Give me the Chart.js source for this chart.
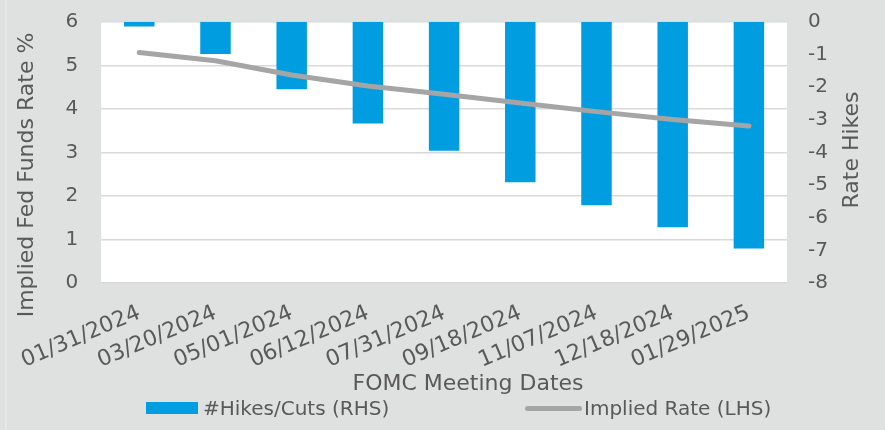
<!DOCTYPE html>
<html>
<head>
<meta charset="utf-8">
<script src="https://cdn.jsdelivr.net/npm/chart.js@4.4.1/dist/chart.umd.min.js"></script>
<style>
    html, body { margin: 0; padding: 0; background: #dfe0e0; }
    .wrap { position: relative; width: 885px; height: 430px; }
    .legend { position: absolute; left: 0; top: 396px; width: 885px; height: 24px;
              font: 20px 'DejaVu Sans', sans-serif; color: #595959; }
    .legend .item { position: absolute; top: 0; height: 24px; display: flex; align-items: center; white-space: nowrap; }
    .swatch-bar { width: 52px; height: 12px; background: #009ee0; margin-right: 5px; }
    .swatch-line { width: 57px; height: 5px; border-radius: 3px; background: #a5a5a5; margin-right: 2px; }
</style>
</head>
<body>
<div class="wrap">
    <canvas id="fomcChart"></canvas>
    <div class="legend" id="fomcLegend"></div>
</div>
<script>
// Data
const meetingDates = ['01/31/2024', '03/20/2024', '05/01/2024', '06/12/2024', '07/31/2024',
                      '09/18/2024', '11/07/2024', '12/18/2024', '01/29/2025'];
const hikesCuts = [-0.14, -0.98, -2.06, -3.11, -3.95, -4.91, -5.62, -6.29, -6.94];
const impliedRate = [5.30, 5.11, 4.78, 4.53, 4.34, 4.14, 3.94, 3.76, 3.61];
const leftAxisRange = [0, 6];
const rightAxisRange = [-8, 0];
const seriesNames = ['#Hikes/Cuts (RHS)', 'Implied Rate (LHS)'];

const textColor = '#595959';
const fontFamily = "'DejaVu Sans', sans-serif";

// Grey frame + white plot area, like the Excel export
const chartBackdrop = {
    id: 'chartBackdrop',
    beforeDraw(chart) {
        const { ctx, chartArea: a } = chart;
        ctx.save();
        ctx.fillStyle = '#dfe0e0';
        ctx.fillRect(0, 0, chart.width, chart.height);
        ctx.strokeStyle = '#ececec';
        ctx.lineWidth = 1;
        ctx.strokeRect(-1, -1, 7, chart.height + 2);
        ctx.fillStyle = '#ffffff';
        ctx.fillRect(a.left, a.top, a.right - a.left, a.bottom - a.top);
        ctx.restore();
    }
};

// Axis titles (right one reads bottom-to-top, which Chart.js can't do natively)
const axisTitles = {
    id: 'axisTitles',
    afterDraw(chart) {
        const ctx = chart.ctx;
        ctx.save();
        ctx.fillStyle = textColor;
        ctx.font = '22px ' + fontFamily;
        ctx.textAlign = 'center';
        ctx.textBaseline = 'middle';

        ctx.save();
        ctx.translate(27, 175);
        ctx.rotate(-Math.PI / 2);
        ctx.fillText('Implied Fed Funds Rate %', 0, 0);
        ctx.restore();

        ctx.save();
        ctx.translate(852, 150);
        ctx.rotate(-Math.PI / 2);
        ctx.fillText('Rate Hikes', 0, 0);
        ctx.restore();

        ctx.fillText('FOMC Meeting Dates', 468, 384);
        ctx.restore();
    }
};

// fixed axis box sizes so the plot area sits where the reference has it
function fixVertical(width) {
    return function (scale) {
        scale.width = width;
        scale.paddingTop = 0;
        scale.paddingBottom = 0;
    };
}

const ctx = document.getElementById('fomcChart');
new Chart(ctx, {
    type: 'bar',
    data: {
        labels: meetingDates,
        datasets: [
            {
                type: 'line',
                label: seriesNames[1],
                data: impliedRate,
                yAxisID: 'y',
                borderColor: '#a5a5a5',
                borderWidth: 5,
                borderCapStyle: 'round',
                borderJoinStyle: 'round',
                pointRadius: 0,
                tension: 0,
                order: 0
            },
            {
                type: 'bar',
                label: seriesNames[0],
                data: hikesCuts,
                yAxisID: 'y1',
                backgroundColor: '#009ee0',
                borderWidth: 0,
                barPercentage: 0.4,
                categoryPercentage: 1,
                order: 1
            }
        ]
    },
    options: {
        responsive: true,
        maintainAspectRatio: false,
        animation: false,
        layout: { padding: { top: 22, left: 0, right: 0, bottom: 0 } },
        plugins: {
            legend: { display: false },
            tooltip: { enabled: false }
        },
        scales: {
            x: {
                grid: { display: false, drawTicks: false },
                border: { display: false },
                ticks: {
                    color: textColor,
                    font: { family: fontFamily, size: 22 },
                    minRotation: 23,
                    maxRotation: 23,
                    autoSkip: false,
                    padding: 17
                },
                afterFit(scale) { scale.height = 147; }
            },
            y: {
                position: 'left',
                min: leftAxisRange[0],
                max: leftAxisRange[1],
                grid: { color: '#d9d9d9', lineWidth: 1.5, drawTicks: false },
                border: { display: false },
                ticks: {
                    stepSize: 1,
                    color: textColor,
                    font: { family: fontFamily, size: 20 },
                    padding: 23
                },
                afterFit: fixVertical(100)
            },
            y1: {
                position: 'right',
                min: rightAxisRange[0],
                max: rightAxisRange[1],
                grid: { display: false, drawTicks: false },
                border: { display: false },
                ticks: {
                    stepSize: 1,
                    color: textColor,
                    font: { family: fontFamily, size: 20 },
                    padding: 21
                },
                afterFit: fixVertical(98)
            }
        }
    },
    plugins: [chartBackdrop, axisTitles]
});

// Custom legend below the chart
const legendContainer = document.getElementById('fomcLegend');
legendContainer.innerHTML = `
    <div class="item" style="left:146px"><span class="swatch-bar"></span>${seriesNames[0]}</div>
    <div class="item" style="left:525px"><span class="swatch-line"></span>${seriesNames[1]}</div>
`;
</script>
</body>
</html>
